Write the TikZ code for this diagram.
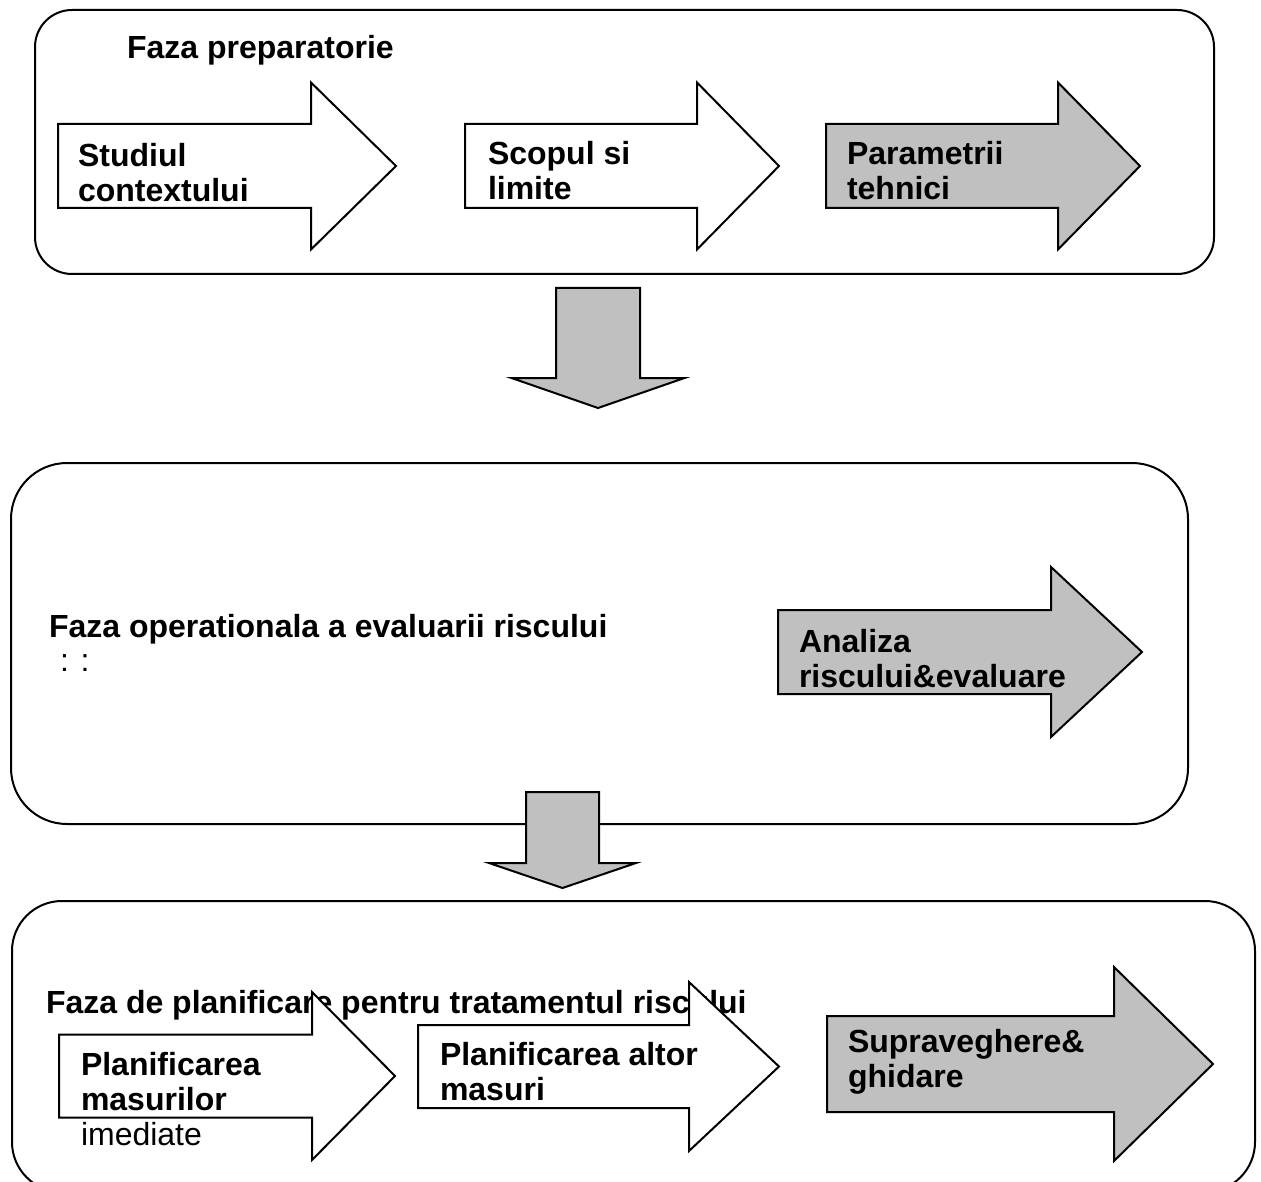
\documentclass[tikz,border=0pt]{standalone}
\usepackage{fontspec}
\setmainfont{Liberation Sans}
\definecolor{arrowgray}{RGB}{192,192,192}

\begin{document}
\begin{tikzpicture}[x=1pt,y=-1pt,line width=2pt]
    \tikzstyle{phase}=[draw=black,line width=2pt,inner sep=0pt]
    \tikzstyle{caption}=[anchor=base west,inner sep=0pt,align=left,font=\fontsize{32}{35}\selectfont\bfseries]
    \clip (0,0) rectangle (1261,1182);

    % phases
    \foreach \name/\xa/\ya/\xb/\yb/\r in {prep/35/10/1214/274/37, oper/11/463/1188/824/56, plan/12/901/1255/1192/50}
        \node[phase,rounded corners=\r pt,minimum width=\xb pt-\xa pt,minimum height=\yb pt-\ya pt] (box-\name) at ({(\xa+\xb)/2},{(\ya+\yb)/2}) {};

    \node[caption] (title-prep) at (126,59) {Faza preparatorie};
    \node[caption] (title-oper) at (48,637) {Faza operationala a evaluarii riscului};
    \node[caption,font=\fontsize{32}{35}\selectfont] (dots) at (59,671) {: :};
    \node[caption] (title-plan) at (45,1013) {Faza de planificare pentru tratamentul riscului};

    % block arrows
    \foreach \num/\x/\y/\h/\H/\hx/\tx/\col in {1/58/166/42/83.5/311/396/white, 2/465/166/42/83.5/697/779/white, 3/826/166/42/83.5/1058/1140/arrowgray,
            4/778/652/42/85/1051/1142/arrowgray,
            5/59/1076/41.5/84/312/395/white, 6/418/1066.5/41.5/84.5/689/779/white, 7/827/1064/48/97/1114/1213/arrowgray}
        \draw[fill=\col] (\x,\y-\h) -- (\hx,\y-\h) -- (\hx,\y-\H) -- (\tx,\y) -- (\hx,\y+\H) -- (\hx,\y+\h) -- (\x,\y+\h) -- cycle;

    \foreach \num/\xc/\w/\W/\ya/\yb/\yt in {1/598/42/86.5/288/378/408, 2/562.5/36.5/73.5/792/863/888}
        \draw[fill=arrowgray] (\xc-\w,\ya) -- (\xc+\w,\ya) -- (\xc+\w,\yb) -- (\xc+\W,\yb) -- (\xc,\yt) -- (\xc-\W,\yb) -- (\xc-\w,\yb) -- cycle;

    % labels (base = last line)
    \node[caption] (lbl-1) at (77,202) {Studiul\\contextului};
    \node[caption] (lbl-2) at (487,200) {Scopul si\\limite};
    \node[caption] (lbl-3) at (846,200) {Parametrii\\tehnici};
    \node[caption] (lbl-4) at (798,687) {Analiza\\riscului\&evaluare};
    \node[caption] (lbl-5) at (80,1145) {Planificarea\\masurilor\\\mdseries imediate};
    \node[caption] (lbl-6) at (439,1100) {Planificarea altor\\masuri};
    \node[caption] (lbl-7) at (847,1087) {Supraveghere\&\\ghidare};
\end{tikzpicture}
\end{document}
